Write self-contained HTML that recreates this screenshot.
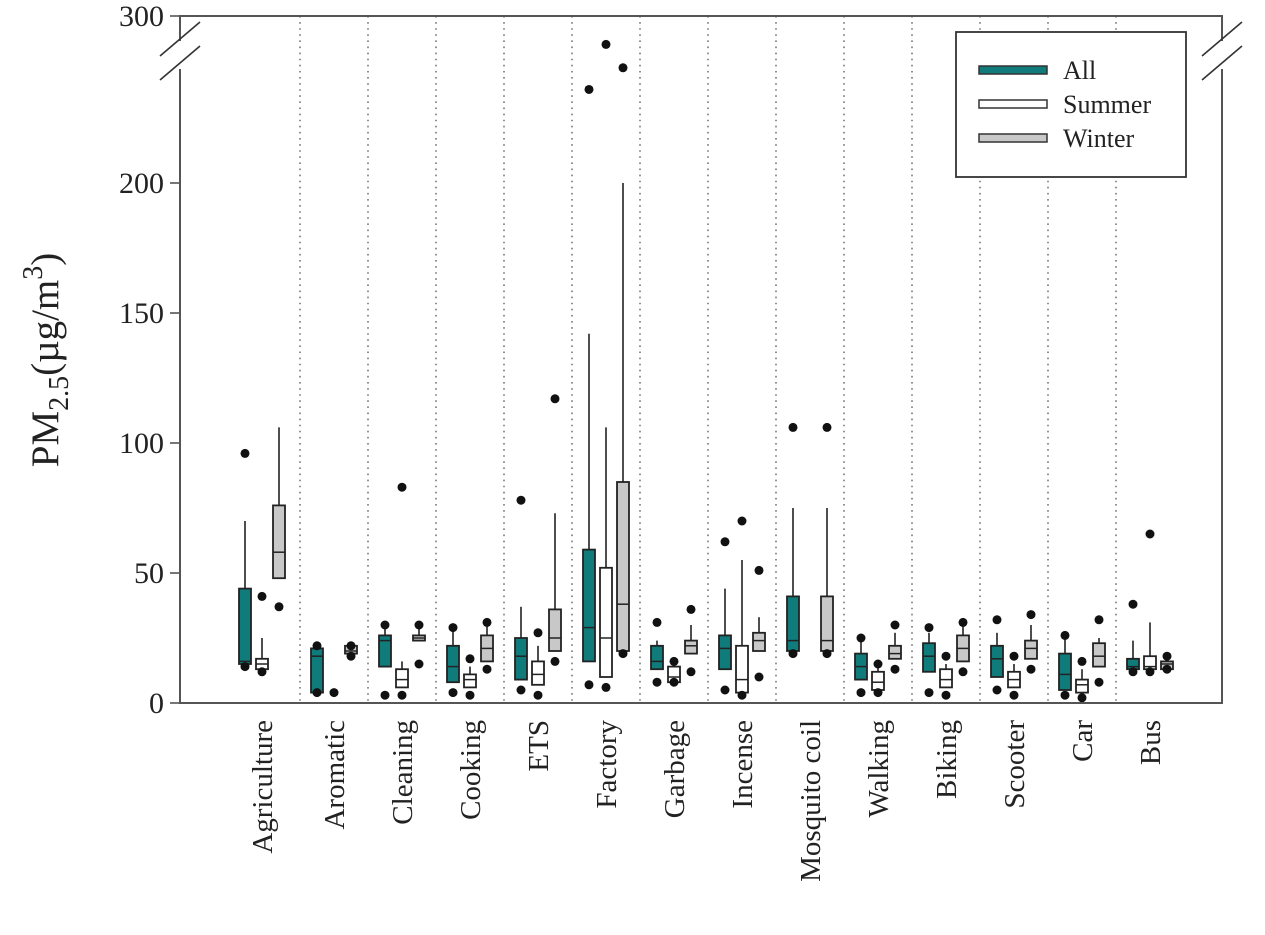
<!DOCTYPE html>
<html><head><meta charset="utf-8"><style>
body{margin:0;background:#fff}
svg{display:block;font-family:"Liberation Serif",serif}
</style></head><body>
<svg id="chart" width="1265" height="935" viewBox="0 0 1265 935" xmlns="http://www.w3.org/2000/svg"></svg>
<script>
const categories=["Agriculture","Aromatic","Cleaning","Cooking","ETS","Factory","Garbage","Incense","Mosquito coil","Walking","Biking","Scooter","Car","Bus"];
// each stat: [whiskerLow, q1, median, q3, whiskerHigh] ; null = no box
const allStats=[[14,15,16,44,70],[4,4,18,21,22],[14,14,24,26,30],[8,8,14,22,29],[9,9,18,25,37],[16,16,29,59,142],[13,13,16,22,24],[13,13,21,26,44],[20,20,24,41,75],[9,9,14,19,25],[12,12,18,23,27],[10,10,17,22,27],[5,5,11,19,25],[13,13,14,17,24]];
const summerStats=[[13,13,15,17,25],null,[6,6,9,13,16],[6,6,9,11,14],[7,7,11,16,22],[10,10,25,52,106],[8,8,10,14,16],[4,4,9,22,55],null,[5,5,8,12,15],[6,6,9,13,15],[6,6,9,12,15],[4,4,7,9,13],[13,13,14,18,31]];
const winterStats=[[48,48,58,76,106],[19,19,20,22,22],[24,24,25,26,29],[16,16,21,26,30],[20,20,25,36,73],[20,20,38,85,200],[19,19,22,24,30],[20,20,24,27,33],[20,20,24,41,75],[17,17,19,22,27],[16,16,21,26,30],[17,17,21,24,30],[14,14,18,23,25],[13,13,15,16,16]];
const allDots=[[14,96],[4,22],[3,30],[4,29],[5,78],[7,256],[8,31],[5,62],[19,106],[4,25],[4,29],[5,32],[3,26],[12,38]];
const summerDots=[[12,41],[4],[3,83],[3,17],[3,27],[6,283],[8,16],[3,70],[],[4,15],[3,18],[3,18],[2,16],[12,65]];
const winterDots=[[37],[18,22],[15,30],[13,31],[16,117],[19,269],[12,36],[10,51],[19,106],[13,30],[12,31],[13,34],[8,32],[13,18]];
const yTicks=[0,50,100,150,200,300];

const svg=document.getElementById('chart');
const NS='http://www.w3.org/2000/svg';
function mk(tag,attrs,parent){const e=document.createElementNS(NS,tag);for(const k in attrs)e.setAttribute(k,attrs[k]);(parent||svg).appendChild(e);return e;}
const L=180,R=1222,T=16,B=703;
function y(v){return v<=200?B-v*2.6:183-(v-200)*1.67;}
function cx(i){return i===0?262:300+68*(i-1)+34;}

for(let i=0;i<13;i++){const d=mk('line',{x1:300+68*i,x2:300+68*i,y1:T,y2:B,stroke:'#777','stroke-width':1.6,'stroke-dasharray':'1.6 4.5'});

}
const fr=mk('rect',{x:L,y:T,width:R-L,height:B-T,fill:'none',stroke:'#555','stroke-width':2});


[[L,55],[R,55]].forEach(p=>{const g=mk('g',{});


mk('rect',{x:p[0]-5,y:p[1]-14,width:10,height:28,fill:'#fff'},g);
mk('line',{x1:p[0]-20,y1:p[1]+1,x2:p[0]+20,y2:p[1]-33,stroke:'#333','stroke-width':1.6},g);
mk('line',{x1:p[0]-20,y1:p[1]+25,x2:p[0]+20,y2:p[1]-9,stroke:'#333','stroke-width':1.6},g);});
yTicks.forEach(t=>{const ln=mk('line',{x1:L-10,x2:L,y1:y(t),y2:y(t),stroke:'#555','stroke-width':1.6});


const tx=mk('text',{x:L-16,y:y(t)+10,'text-anchor':'end','font-size':30,fill:'#222'});tx.textContent=t;

});
const yt=mk('text',{transform:'translate(58,360) rotate(-90)','text-anchor':'middle','font-size':39,fill:'#222'});
yt.innerHTML='PM<tspan font-size="28" dy="10">2.5</tspan><tspan dy="-10">(µg/m</tspan><tspan font-size="28" dy="-16">3</tspan><tspan dy="16">)</tspan>';



function box(x,s,dots,fill,name){
  const g=mk('g',{});
  
  
  if(s){
    mk('line',{x1:x,x2:x,y1:y(s[4]),y2:y(s[0]),stroke:'#222','stroke-width':1.6},g);
    mk('rect',{x:x-6,y:y(s[3]),width:12,height:Math.max(y(s[1])-y(s[3]),2),fill:fill,stroke:'#222','stroke-width':1.8},g);
    mk('line',{x1:x-6,x2:x+6,y1:y(s[2]),y2:y(s[2]),stroke:'#222','stroke-width':1.5},g);
  }
  dots.forEach(d=>mk('circle',{cx:x,cy:y(d),r:4.5,fill:'#111'},g));
}
categories.forEach((c,i)=>{
  const x=cx(i);
  box(x-17,allStats[i],allDots[i],'#0f7b7b','box-all-'+i);
  box(x,summerStats[i],summerDots[i],'#fff','box-summer-'+i);
  box(x+17,winterStats[i],winterDots[i],'#c8c8c8','box-winter-'+i);
  const t=mk('text',{transform:`translate(${x+10},720) rotate(-90)`,'text-anchor':'end','font-size':29,fill:'#222'});
  t.textContent=c;
  
  
});
const lg=mk('g',{});


mk('rect',{x:956,y:32,width:230,height:145,fill:'#fff',stroke:'#333','stroke-width':1.8},lg);
[['All','#0f7b7b',70],['Summer','#fff',104],['Winter','#c8c8c8',138]].forEach(e=>{
  const g=mk('g',{},lg);
  
  
  mk('rect',{x:979,y:e[2]-4,width:68,height:8,fill:e[1],stroke:'#333','stroke-width':1.5},g);
  const t=mk('text',{x:1063,y:e[2]+9,'font-size':26,fill:'#222'},g);t.textContent=e[0];
});
</script>
</body></html>
